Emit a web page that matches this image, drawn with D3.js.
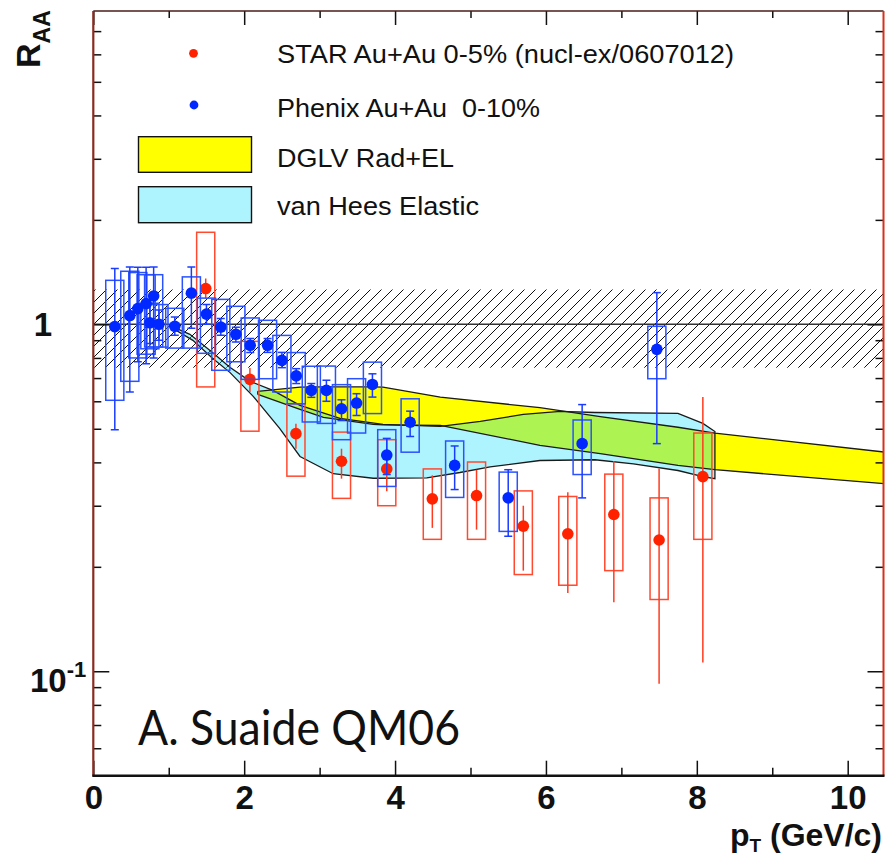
<!DOCTYPE html>
<html>
<head>
<meta charset="utf-8">
<script src="https://cdn.jsdelivr.net/npm/d3@7/dist/d3.min.js"></script>
<style>
  html, body { margin: 0; padding: 0; background: #fff; }
  svg { display: block; }
  .legend-text { white-space: pre; }
</style>
</head>
<body>
<svg id="chart" width="885" height="858"></svg>
<script>
// ---- STAR Au+Au 0-5% (nucl-ex/0607012) ----
const starPt     = [1.49, 2.076, 2.686, 3.29, 3.89, 4.494, 5.08, 5.70, 6.29, 6.90, 7.50, 8.08];
const starRaa    = [1.268, 0.694, 0.484, 0.403, 0.383, 0.314, 0.321, 0.262, 0.249, 0.283, 0.239, 0.364];
const starStatLo = [1.186, 0.638, 0.438, 0.359, 0.330, 0.259, 0.256, 0.195, 0.168, 0.158, 0.092, 0.106];
const starStatHi = [1.355, 0.748, 0.517, 0.438, 0.468, 0.367, 0.381, 0.300, 0.328, 0.404, 0.384, 0.617];
const starSysLo  = [0.660, 0.492, 0.365, 0.315, 0.300, 0.240, 0.240, 0.190, 0.177, 0.195, 0.161, 0.240];
const starSysHi  = [1.842, 0.893, 0.590, 0.489, 0.465, 0.383, 0.401, 0.331, 0.319, 0.370, 0.316, 0.486];

// ---- PHENIX Au+Au 0-10% ----
const phxPt     = [0.285, 0.484, 0.59, 0.70, 0.80, 0.75, 0.87, 1.08, 1.30, 1.50, 1.69, 1.89, 2.08, 2.31, 2.50, 2.69, 2.89, 3.09, 3.29, 3.49, 3.70, 3.89, 4.20, 4.79, 5.50, 6.48, 7.47];
const phxRaa    = [0.985, 1.06, 1.11, 1.147, 1.207, 1.01, 1.00, 0.987, 1.23, 1.07, 0.982, 0.936, 0.87, 0.87, 0.787, 0.71, 0.645, 0.645, 0.571, 0.593, 0.671, 0.42, 0.522, 0.392, 0.316, 0.453, 0.847];
const phxStatLo = [0.497, 0.638, 0.78, 0.77, 0.80, 0.88, 0.90, 0.93, 0.974, 1.00, 0.93, 0.89, 0.83, 0.83, 0.75, 0.675, 0.616, 0.60, 0.528, 0.546, 0.617, 0.369, 0.475, 0.334, 0.245, 0.316, 0.453];
const phxStatHi = [1.448, 1.463, 1.46, 1.46, 1.463, 1.15, 1.10, 1.05, 1.463, 1.14, 1.04, 0.98, 0.91, 0.91, 0.83, 0.745, 0.675, 0.69, 0.606, 0.631, 0.72, 0.469, 0.562, 0.446, 0.381, 0.587, 1.234];
const phxSysLo  = [0.604, 0.685, 0.80, 0.82, 0.86, 0.85, 0.86, 0.854, 0.854, 0.825, 0.737, 0.78, 0.694, 0.697, 0.638, 0.59, 0.523, 0.518, 0.465, 0.486, 0.553, 0.341, 0.428, 0.317, 0.253, 0.369, 0.697];
const phxSysHi  = [1.339, 1.422, 1.41, 1.39, 1.39, 1.15, 1.14, 1.112, 1.37, 1.19, 1.18, 1.127, 1.043, 1.027, 0.929, 0.829, 0.757, 0.758, 0.67, 0.697, 0.778, 0.497, 0.61, 0.461, 0.375, 0.53, 0.987];
const boxHalfWidth = 0.12;

// ---- DGLV Rad+EL band ----
const dglvPt    = [2.18, 2.74, 3.05, 3.71, 3.84, 4.60, 5.92, 6.72, 7.75, 8.24, 10.5];
const dglvUpper = [0.641, 0.659, 0.660, 0.660, 0.659, 0.617, 0.575, 0.542, 0.505, 0.486, 0.428];
const dglvLower = [0.628, 0.569, 0.539, 0.515, 0.513, 0.511, 0.448, 0.424, 0.392, 0.381, 0.347];

// ---- van Hees elastic band ----
const vhUpperPt = [1.01, 1.28, 1.58, 1.81, 2.08, 2.38, 2.74, 3.27, 3.84, 4.60, 5.13, 5.70, 6.19, 6.65, 7.75, 8.08, 8.24];
const vhUpper   = [0.993, 0.936, 0.830, 0.752, 0.685, 0.645, 0.584, 0.536, 0.515, 0.508, 0.525, 0.550, 0.561, 0.557, 0.554, 0.518, 0.491];
const vhLowerPt = [1.01, 1.32, 1.58, 1.81, 2.12, 2.47, 2.74, 3.18, 3.71, 4.42, 4.86, 5.26, 5.92, 6.65, 7.16, 7.75, 8.08, 8.24];
const vhLower   = [0.987, 0.899, 0.798, 0.727, 0.620, 0.501, 0.416, 0.371, 0.360, 0.361, 0.374, 0.388, 0.405, 0.407, 0.396, 0.379, 0.364, 0.359];

// ---- normalisation uncertainty around R_AA = 1 ----
const normBand = [0.75, 1.26];

// ---- axes ----
const xMajor = [0, 2, 4, 6, 8, 10];
const xMinor = [1, 3, 5, 7, 9];
const yMinor = [0.06, 0.07, 0.08, 0.09, 0.2, 0.3, 0.4, 0.5, 0.6, 0.7, 0.8, 0.9, 2, 3, 4, 5, 6, 7];

const legendEntries = ["STAR Au+Au 0-5% (nucl-ex/0607012)", "Phenix Au+Au  0-10%", "DGLV Rad+EL", "van Hees Elastic"];

const svg = d3.select("#chart");
const L = 93.3, R = 883.5, T = 11, B = 775.7;
const x = d3.scaleLinear().domain([0, 10.5]).range([L, L + 10.5 * 75.44]);
const y = d3.scaleLog().domain([0.05, 8]).range([B, T]);

const defs = svg.append("defs");
defs.append("clipPath").attr("id", "plotClip")
  .append("rect").attr("x", L).attr("y", T).attr("width", R - L).attr("height", B - T);

// diagonal hatching
const hatch = defs.append("pattern").attr("id", "hatch")
  .attr("patternUnits", "userSpaceOnUse").attr("width", 11).attr("height", 11);
hatch.append("path").attr("d", "M-2,2 l4,-4 M0,11 l11,-11 M9,13 l4,-4")
  .attr("stroke", "#111").attr("stroke-width", 1);

// translucent cyan, so the yellow band shows through where they overlap
const vhFill = "#00dcff", vhOpacity = 0.32;

const plot = svg.append("g").attr("clip-path", "url(#plotClip)");

// normalisation band
plot.append("rect")
  .attr("x", x(0)).attr("width", x(10.5) - x(0))
  .attr("y", y(normBand[1])).attr("height", y(normBand[0]) - y(normBand[1]))
  .attr("fill", "url(#hatch)");

// bands
const dglvArea = d3.area().x(d => x(d[0])).y0(d => y(d[2])).y1(d => y(d[1]));
const dglvData = dglvPt.map((p, i) => [p, dglvUpper[i], dglvLower[i]]);
plot.append("path").datum(dglvData).attr("d", dglvArea)
  .attr("fill", "#ffff00").attr("stroke", "none");

const vhPoly = vhUpperPt.map((p, i) => [x(p), y(vhUpper[i])])
  .concat(vhLowerPt.map((p, i) => [x(p), y(vhLower[i])]).reverse());
plot.append("path").attr("d", "M" + vhPoly.join("L") + "Z")
  .attr("fill", vhFill).attr("fill-opacity", vhOpacity).attr("stroke", "none");

// band outlines
const line = d3.line();
const outline = (pts) => plot.append("path").attr("d", line(pts))
  .attr("fill", "none").attr("stroke", "#1a1a1a").attr("stroke-width", 1.3);
outline(dglvData.map(d => [x(d[0]), y(d[1])]));
outline(dglvData.map(d => [x(d[0]), y(d[2])]));
outline([[x(dglvPt[0]), y(dglvUpper[0])], [x(dglvPt[0]), y(dglvLower[0])]]);
outline(vhPoly.concat([vhPoly[0]]));

// R_AA = 1 reference line
plot.append("line").attr("x1", x(0)).attr("x2", x(10.5))
  .attr("y1", y(1)).attr("y2", y(1))
  .attr("stroke", "#333").attr("stroke-width", 1.6);

// data series
function drawSeries(pt, raa, sLo, sHi, yLo, yHi, boxColor, barColor, markColor, caps) {
  const g = plot.append("g");
  pt.forEach((p, i) => {
    g.append("rect")
      .attr("x", x(p - boxHalfWidth)).attr("width", x(p + boxHalfWidth) - x(p - boxHalfWidth))
      .attr("y", y(yHi[i])).attr("height", y(yLo[i]) - y(yHi[i]))
      .attr("fill", "none").attr("stroke", boxColor).attr("stroke-width", 1.5);
  });
  pt.forEach((p, i) => {
    g.append("line").attr("x1", x(p)).attr("x2", x(p))
      .attr("y1", y(sHi[i])).attr("y2", y(sLo[i]))
      .attr("stroke", barColor).attr("stroke-width", 1.5);
    if (caps) {
      [sHi[i], sLo[i]].forEach(v => {
        g.append("line").attr("x1", x(p) - 4).attr("x2", x(p) + 4)
          .attr("y1", y(v)).attr("y2", y(v))
          .attr("stroke", barColor).attr("stroke-width", 1.5);
      });
    }
  });
  pt.forEach((p, i) => {
    g.append("circle").attr("cx", x(p)).attr("cy", y(raa[i])).attr("r", 5.8)
      .attr("fill", markColor);
  });
}
drawSeries(starPt, starRaa, starStatLo, starStatHi, starSysLo, starSysHi, "#ff4a30", "#ff3b1f", "#ff2200", false);
drawSeries(phxPt, phxRaa, phxStatLo, phxStatHi, phxSysLo, phxSysHi, "#2a52ff", "#1a3cff", "#0028ff", true);

// ---- axes ----
const axFont = "'Liberation Sans', Arial, Helvetica, sans-serif";
function styleAxis(g) {
  g.select(".domain").remove();
  g.selectAll(".tick line").attr("stroke", "#111").attr("stroke-width", 1.5);
}
svg.append("g").attr("transform", `translate(0,${B})`)
  .call(d3.axisBottom(x).tickValues(xMajor).tickSize(-15).tickPadding(10).tickFormat(d3.format("d")))
  .call(styleAxis)
  .call(g => g.selectAll("text").attr("font-family", axFont).attr("font-weight", "bold")
    .attr("font-size", 33).attr("fill", "#111"));
svg.append("g").attr("transform", `translate(0,${B})`)
  .call(d3.axisBottom(x).tickValues(xMinor).tickSize(-8).tickFormat(""))
  .call(styleAxis);
svg.append("g").attr("transform", `translate(0,${T})`)
  .call(d3.axisTop(x).tickValues(xMajor).tickSize(-14).tickFormat(""))
  .call(styleAxis);
svg.append("g").attr("transform", `translate(0,${T})`)
  .call(d3.axisTop(x).tickValues(xMinor).tickSize(-7).tickFormat(""))
  .call(styleAxis);

svg.append("g").attr("transform", `translate(${L},0)`)
  .call(d3.axisLeft(y).tickValues([0.1, 1]).tickSize(-16).tickFormat(""))
  .call(styleAxis);
svg.append("g").attr("transform", `translate(${L},0)`)
  .call(d3.axisLeft(y).tickValues(yMinor).tickSize(-8).tickFormat(""))
  .call(styleAxis);
svg.append("g").attr("transform", `translate(${R},0)`)
  .call(d3.axisRight(y).tickValues([0.1, 1]).tickSize(-16).tickFormat(""))
  .call(styleAxis);
svg.append("g").attr("transform", `translate(${R},0)`)
  .call(d3.axisRight(y).tickValues(yMinor).tickSize(-8).tickFormat(""))
  .call(styleAxis);

// y tick labels
svg.append("text").attr("x", 52).attr("y", y(1) + 12)
  .attr("text-anchor", "end").attr("font-family", axFont).attr("font-weight", "bold")
  .attr("font-size", 33).attr("fill", "#111").text("1");
const dec = svg.append("text").attr("x", 30).attr("y", y(0.1) + 21)
  .attr("font-family", axFont).attr("font-weight", "bold").attr("font-size", 33).attr("fill", "#111");
dec.append("tspan").text("10");
dec.append("tspan").attr("dy", -15).attr("font-size", 22).text("-1");

// frame
svg.append("line").attr("x1", L).attr("x2", R).attr("y1", T).attr("y2", T)
  .attr("stroke", "#4a1c18").attr("stroke-width", 1.6);
svg.append("line").attr("x1", R).attr("x2", R).attr("y1", T).attr("y2", B)
  .attr("stroke", "#d8301c").attr("stroke-width", 2);
svg.append("line").attr("x1", L).attr("x2", L).attr("y1", T).attr("y2", B)
  .attr("stroke", "#8a2a20").attr("stroke-width", 2.2);
svg.append("line").attr("x1", L - 1).attr("x2", R + 1).attr("y1", B).attr("y2", B)
  .attr("stroke", "#111").attr("stroke-width", 2.6);

// axis titles
const xt = svg.append("text").attr("x", 882).attr("y", 846).attr("text-anchor", "end")
  .attr("font-family", axFont).attr("font-weight", "bold").attr("font-size", 32).attr("fill", "#111");
xt.append("tspan").text("p");
xt.append("tspan").attr("dy", 6).attr("font-size", 19).text("T");
xt.append("tspan").attr("dy", -6).text(" (GeV/c)");

const yt = svg.append("text").attr("transform", "translate(40,68) rotate(-90)")
  .attr("font-family", axFont).attr("font-weight", "bold").attr("font-size", 34).attr("fill", "#111");
yt.append("tspan").text("R");
yt.append("tspan").attr("dy", 10).attr("font-size", 23).text("AA");

// ---- legend ----
const lg = svg.append("g").attr("font-family", axFont).attr("font-size", 26.5).attr("fill", "#111");
lg.append("circle").attr("cx", 193.5).attr("cy", 53.3).attr("r", 4.4).attr("fill", "#ff2200");
lg.append("circle").attr("cx", 194).attr("cy", 105).attr("r", 4.4).attr("fill", "#0028ff");
lg.append("rect").attr("x", 138.5).attr("y", 136.7).attr("width", 113).attr("height", 35.6)
  .attr("fill", "#ffff00").attr("stroke", "#111").attr("stroke-width", 1.4);
lg.append("rect").attr("x", 138.5).attr("y", 186.7).attr("width", 113).attr("height", 36)
  .attr("fill", vhFill).attr("fill-opacity", vhOpacity).attr("stroke", "#111").attr("stroke-width", 1.4);
const legY = [63.3, 116.7, 166.7, 215];
const legW = [457, 263, 177, 202];
legendEntries.forEach((t, i) => {
  lg.append("text").attr("class", "legend-text").attr("x", 277).attr("y", legY[i])
    .attr("textLength", legW[i]).attr("lengthAdjust", "spacingAndGlyphs").text(t);
});

// author tag
svg.append("text").attr("x", 138).attr("y", 745)
  .attr("font-family", "Lato, 'Open Sans', sans-serif").attr("font-size", 48).attr("fill", "#111")
  .attr("textLength", 322).attr("lengthAdjust", "spacingAndGlyphs")
  .text("A. Suaide QM06");
</script>
</body>
</html>
